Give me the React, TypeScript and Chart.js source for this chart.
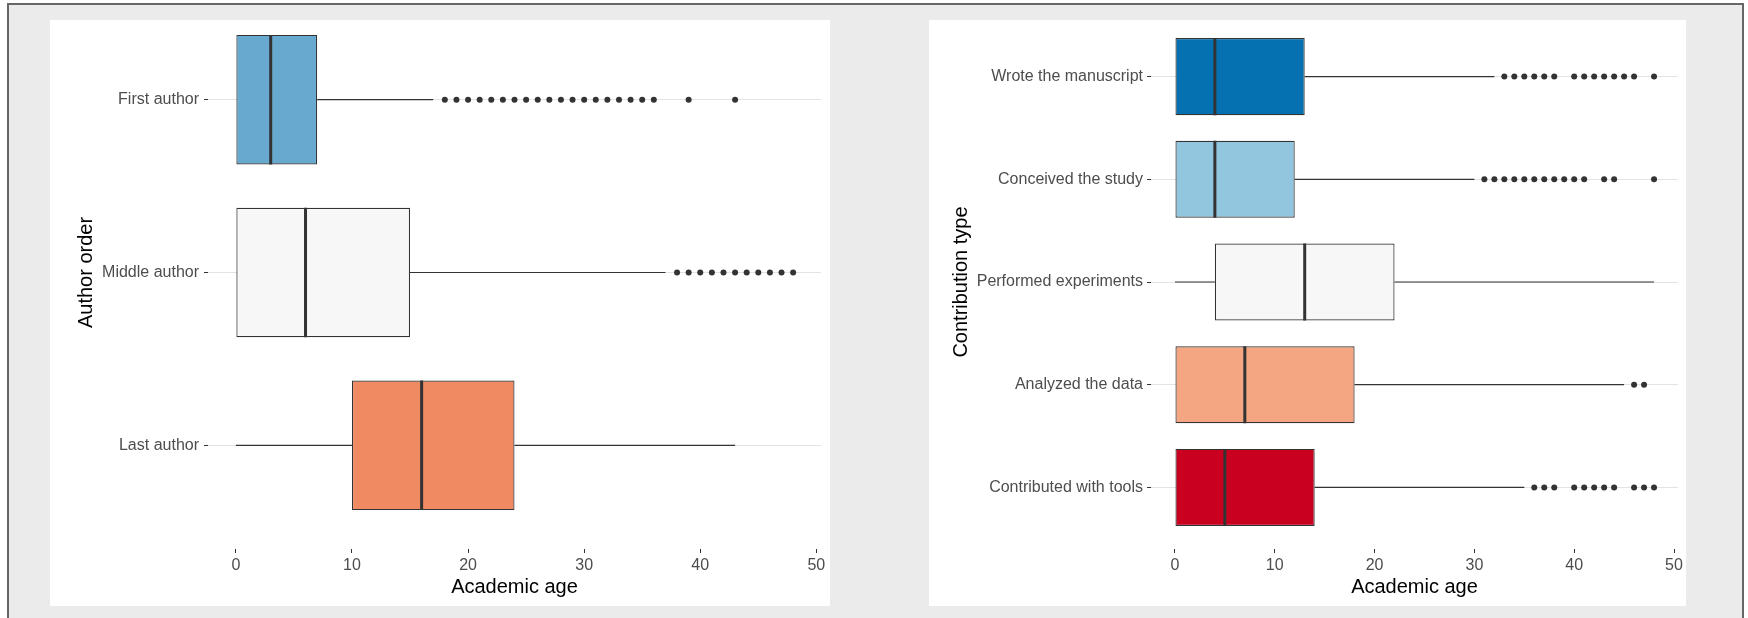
import React, { useEffect, useRef } from 'react';
import { Chart, registerables } from 'chart.js';

Chart.register(...registerables);

// ---------- Data: left panel (author order) ----------
const LEFT_CATEGORIES = ['First author', 'Middle author', 'Last author'];
const LEFT_LOWER = [0, 0, 0];
const LEFT_Q1 = [0, 0, 10];
const LEFT_MEDIAN = [3, 6, 16];
const LEFT_Q3 = [7, 15, 24];
const LEFT_UPPER = [17, 37, 43];
const LEFT_OUTLIERS = [
  [18, 19, 20, 21, 22, 23, 24, 25, 26, 27, 28, 29, 30, 31, 32, 33, 34, 35, 36, 39, 43],
  [38, 39, 40, 41, 42, 43, 44, 45, 46, 47, 48],
  [],
];
const LEFT_COLORS = ['#67A9CF', '#F7F7F7', '#EF8A62'];

// ---------- Data: right panel (contribution type) ----------
const RIGHT_CATEGORIES = [
  'Wrote the manuscript',
  'Conceived the study',
  'Performed experiments',
  'Analyzed the data',
  'Contributed with tools',
];
const RIGHT_LOWER = [0, 0, 0, 0, 0];
const RIGHT_Q1 = [0, 0, 4, 0, 0];
const RIGHT_MEDIAN = [4, 4, 13, 7, 5];
const RIGHT_Q3 = [13, 12, 22, 18, 14];
const RIGHT_UPPER = [32, 30, 48, 45, 35];
const RIGHT_OUTLIERS = [
  [33, 34, 35, 36, 37, 38, 40, 41, 42, 43, 44, 45, 46, 48],
  [31, 32, 33, 34, 35, 36, 37, 38, 39, 40, 41, 43, 44, 48],
  [],
  [46, 47],
  [36, 37, 38, 40, 41, 42, 43, 44, 46, 47, 48],
];
const RIGHT_COLORS = ['#0571B0', '#92C5DE', '#F7F7F7', '#F4A582', '#CA0020'];

const X_TICKS = [0, 10, 20, 30, 40, 50];
const X_TITLE = 'Academic age';
const LEFT_Y_TITLE = 'Author order';
const RIGHT_Y_TITLE = 'Contribution type';

// ---------- Style constants ----------
const BOX_WIDTH = 0.75;
const DARK = '#333333';
const TICK_TEXT = '#4D4D4D';
const GRID = '#E3E3E3';
const FONT = "'Liberation Sans', Arial, Helvetica, sans-serif";

Chart.defaults.font.family = FONT;

type PanelProps = {
  cats: string[];
  lower: number[];
  q1: number[];
  median: number[];
  q3: number[];
  upper: number[];
  outliers: number[][];
  colors: string[];
  yTitle: string;
  left: number;
  width: number;
  canvasTop: number;
  canvasHeight: number;
  yAxisWidth: number;
  padRight: number;
  yTitlePad: number;
  yLabelPad: number;
};

function BoxPanel(p: PanelProps) {
  const ref = useRef<HTMLCanvasElement | null>(null);

  useEffect(() => {
    if (!ref.current) return;
    const n = p.cats.length;
    const all = [...p.lower, ...p.upper, ...p.outliers.flat()];
    const dmin = Math.min(...all);
    const dmax = Math.max(...all);
    const pad = (dmax - dmin) * 0.05;

    const datasets: any[] = [];
    datasets.push({
      type: 'bar',
      data: p.cats.map((_, i) => ({ y: i + 1, x: [p.q1[i], p.q3[i]] })),
      backgroundColor: p.colors,
      borderColor: DARK,
      borderWidth: 1.2,
      borderSkipped: false,
      barPercentage: BOX_WIDTH,
      categoryPercentage: 1,
      order: 2,
    });
    p.cats.forEach((_, i) => {
      const y = i + 1;
      datasets.push({
        type: 'line',
        data: [{ x: p.lower[i], y }, { x: p.q1[i], y }],
        borderColor: DARK,
        borderWidth: 1.2,
        pointRadius: 0,
        order: 3,
      });
      datasets.push({
        type: 'line',
        data: [{ x: p.q3[i], y }, { x: p.upper[i], y }],
        borderColor: DARK,
        borderWidth: 1.2,
        pointRadius: 0,
        order: 3,
      });
      datasets.push({
        type: 'line',
        data: [
          { x: p.median[i], y: y - BOX_WIDTH / 2 },
          { x: p.median[i], y: y + BOX_WIDTH / 2 },
        ],
        borderColor: DARK,
        borderWidth: 3,
        pointRadius: 0,
        order: 1,
      });
      if (p.outliers[i].length) {
        datasets.push({
          type: 'line',
          data: p.outliers[i].map((v) => ({ x: v, y })),
          showLine: false,
          pointRadius: 3,
          pointBackgroundColor: DARK,
          pointBorderWidth: 0,
          order: 1,
        });
      }
    });

    const chart = new Chart(ref.current, {
      type: 'bar',
      data: { datasets },
      options: {
        indexAxis: 'y',
        animation: false,
        responsive: false,
        devicePixelRatio: 1,
        events: [],
        layout: { padding: { left: 0, top: 0, bottom: 0, right: p.padRight } },
        plugins: { legend: { display: false }, tooltip: { enabled: false } },
        scales: {
          x: {
            type: 'linear',
            offset: false,
            min: dmin - pad,
            max: dmax + pad,
            afterBuildTicks: (s: any) => {
              s.ticks = X_TICKS.map((v) => ({ value: v }));
            },
            afterFit: (s: any) => {
              s.height = 57;
              s.paddingLeft = 0;
              s.paddingRight = 0;
            },
            ticks: {
              autoSkip: false,
              maxRotation: 0,
              color: TICK_TEXT,
              font: { size: 16 },
              padding: 3,
            },
            grid: {
              offset: false,
              drawOnChartArea: false,
              drawTicks: true,
              tickLength: 4,
              tickColor: DARK,
              tickWidth: 1,
            },
            border: { display: false },
            title: {
              display: true,
              text: X_TITLE,
              color: '#000000',
              font: { size: 20 },
              padding: { top: 0, bottom: 7 },
            },
          },
          y: {
            type: 'linear',
            offset: false,
            reverse: true,
            min: 1 - 0.6,
            max: n + 0.6,
            afterBuildTicks: (s: any) => {
              s.ticks = p.cats.map((_, i) => ({ value: i + 1 }));
            },
            afterFit: (s: any) => {
              s.width = p.yAxisWidth;
              s.paddingTop = 0;
              s.paddingBottom = 0;
            },
            ticks: {
              autoSkip: false,
              color: TICK_TEXT,
              font: { size: 16 },
              padding: p.yLabelPad,
              callback: (v: any) => p.cats[Math.round(Number(v)) - 1],
            },
            grid: {
              offset: false,
              color: GRID,
              lineWidth: 1,
              drawTicks: true,
              tickLength: 4,
              tickColor: DARK,
              tickWidth: 1,
            },
            border: { display: false },
            title: {
              display: true,
              text: p.yTitle,
              color: '#000000',
              font: { size: 20 },
              padding: { top: p.yTitlePad, bottom: 0 },
            },
          },
        },
      } as any,
    });
    return () => chart.destroy();
  }, []);

  return (
    <div
      style={{
        position: 'absolute',
        left: p.left,
        top: 20,
        width: p.width,
        height: 586,
        background: '#FFFFFF',
        overflow: 'hidden',
      }}
    >
      <canvas
        ref={ref}
        width={p.width}
        height={p.canvasHeight}
        style={{
          position: 'absolute',
          left: 0,
          top: p.canvasTop,
          width: p.width,
          height: p.canvasHeight,
        }}
      />
    </div>
  );
}

export default function App() {
  return (
    <div
      style={{
        position: 'fixed',
        left: 0,
        top: 0,
        width: 1748,
        height: 618,
        background: '#FFFFFF',
        overflow: 'hidden',
      }}
    >
      <div
        style={{
          position: 'absolute',
          left: 7,
          top: 3,
          width: 1737,
          height: 660,
          boxSizing: 'border-box',
          border: '2px solid #666666',
          background: '#EBEBEB',
        }}
      />
      <BoxPanel
        cats={LEFT_CATEGORIES}
        lower={LEFT_LOWER}
        q1={LEFT_Q1}
        median={LEFT_MEDIAN}
        q3={LEFT_Q3}
        upper={LEFT_UPPER}
        outliers={LEFT_OUTLIERS}
        colors={LEFT_COLORS}
        yTitle={LEFT_Y_TITLE}
        left={50}
        width={780}
        canvasTop={-28}
        canvasHeight={614}
        yAxisWidth={158}
        padRight={9}
        yTitlePad={24}
        yLabelPad={5}
      />
      <BoxPanel
        cats={RIGHT_CATEGORIES}
        lower={RIGHT_LOWER}
        q1={RIGHT_Q1}
        median={RIGHT_MEDIAN}
        q3={RIGHT_Q3}
        upper={RIGHT_UPPER}
        outliers={RIGHT_OUTLIERS}
        colors={RIGHT_COLORS}
        yTitle={RIGHT_Y_TITLE}
        left={929}
        width={757}
        canvasTop={-9}
        canvasHeight={595}
        yAxisWidth={222}
        padRight={8}
        yTitlePad={20}
        yLabelPad={4}
      />
    </div>
  );
}
